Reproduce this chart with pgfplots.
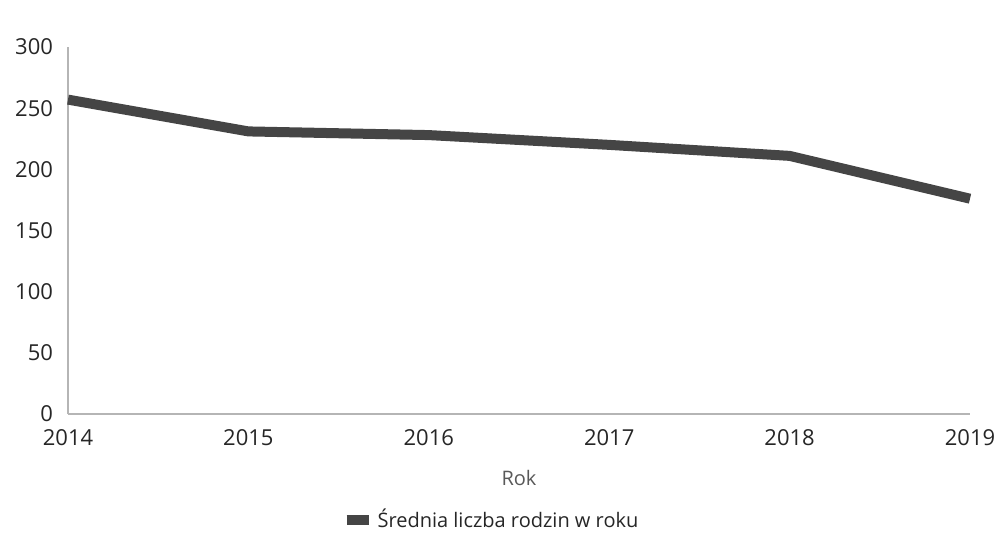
\documentclass[border=0pt]{standalone}
\usepackage{fontspec}
\setmainfont{Open Sans}
\usepackage{pgfplots}
\pgfplotsset{compat=1.18}
\definecolor{linegray}{HTML}{454545}
\definecolor{axisgray}{HTML}{B5B5B5}
\definecolor{textdark}{HTML}{262626}
\definecolor{textgray}{HTML}{595959}
\begin{document}
\begin{tikzpicture}
\begin{axis}[
  scale only axis, width=451pt, height=183.5pt,
  xmin=2014, xmax=2019, ymin=0, ymax=300,
  xtick={2014,2015,2016,2017,2018,2019},
  ytick={0,50,100,150,200,250,300},
  axis x line=bottom, axis y line=left,
  axis line style={-, axisgray, line width=0.6pt},
  major tick length=0pt,
  /pgf/number format/assume math mode=true,
  xticklabel style={/pgf/number format/1000 sep={}, font=\fontsize{11}{13}\selectfont, text=textdark, yshift=-4pt},
  yticklabel style={font=\fontsize{11}{13}\selectfont, text=textdark, xshift=-4pt},
  xlabel={Rok},
  x label style={at={(axis description cs:0.5,-0.174)}, anchor=center, font=\fontsize{10}{12}\selectfont, text=textgray},
  legend style={at={(0.47,-0.289)}, anchor=center, draw=none, fill=none, font=\fontsize{10}{12}\selectfont, text=textdark},
  legend image code/.code={\fill[linegray, draw=none, line width=0pt] (0pt,-2pt) rectangle (8.5pt,2.2pt);
    \path (0pt,0pt) -- (11pt,0pt);},
  clip=false,
]
\addplot[linegray, line width=5pt, line join=round] coordinates {
  (2014,257) (2015,231) (2016,228) (2017,220) (2018,211) (2019,176)
};
\addlegendentry{Średnia liczba rodzin w roku}
\end{axis}
\pgfresetboundingbox
\path ([xshift=-34pt,yshift=-61.5pt]current axis.south west) rectangle ([xshift=14pt,yshift=23.5pt]current axis.north east);
\end{tikzpicture}
\end{document}
